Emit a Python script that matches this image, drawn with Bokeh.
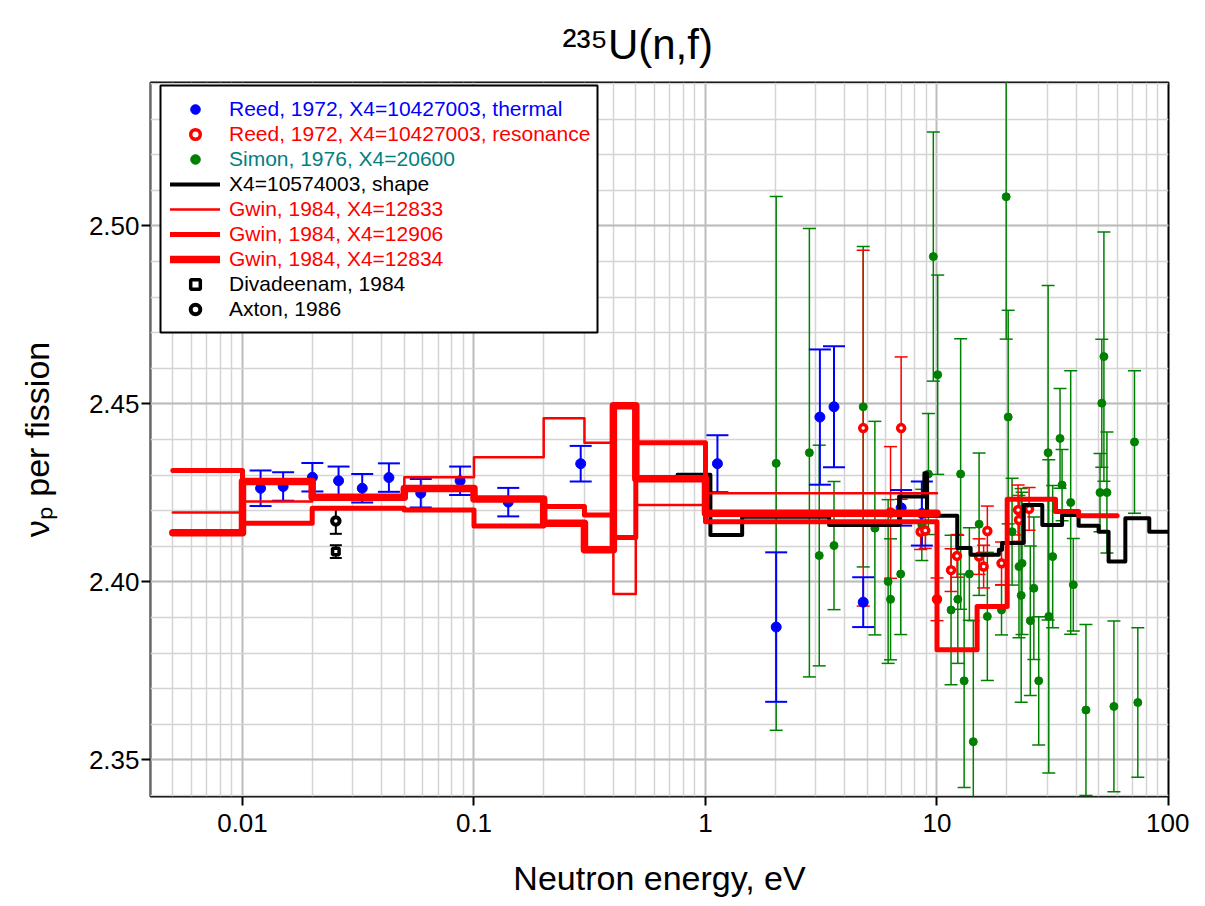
import math
from bokeh.plotting import figure
from bokeh.models import (ColumnDataSource, Whisker, TeeHead, FixedTicker, Legend,
                          LegendItem, BoxAnnotation, Range1d)
from bokeh.embed import file_html
from bokeh.resources import INLINE

# ---------------- data ----------------
# Reed 1972, thermal (blue)
reed_th_E = [0.01197, 0.01498, 0.02004, 0.0260, 0.0329, 0.0429, 0.0589, 0.0871, 0.1406,
             0.289, 1.126, 2.02, 3.12, 3.59, 4.80, 7.0, 8.6]
reed_th_nu = [2.4263, 2.4268, 2.4294, 2.4284, 2.4263, 2.4293, 2.4249, 2.4284, 2.4224,
              2.4332, 2.4332, 2.3873, 2.4463, 2.4492, 2.3943, 2.4208, 2.4192]
reed_th_err = [0.005, 0.004, 0.004, 0.004, 0.004, 0.004, 0.004, 0.004, 0.004,
               0.005, 0.008, 0.021, 0.019, 0.017, 0.007, 0.005, 0.009]

# Reed 1972, resonance (red open circles)
reed_res_E = [4.80, 6.30, 7.0, 8.5, 8.9, 10.0, 11.5, 12.2, 15.2, 15.9, 16.5, 19.0, 22.4, 22.6, 25.0]
reed_res_nu = [2.4432, 2.4195, 2.4432, 2.4141, 2.4144, 2.3951, 2.4033, 2.4073, 2.4071, 2.4043,
               2.4143, 2.4052, 2.4202, 2.4174, 2.4205]
reed_res_err = [0.050, 0.0185, 0.020, 0.005, 0.005, 0.006, 0.006, 0.006, 0.005, 0.006,
                0.007, 0.006, 0.007, 0.006, 0.006]

# Simon 1976 (green)
simon_E = [2.02, 2.81, 3.10, 3.59, 4.80, 5.39, 6.15, 6.30, 6.97, 8.60, 9.18, 9.64, 10.07,
           11.5, 12.3, 12.65, 13.1, 13.8, 14.35, 15.2, 16.5, 19.0, 19.9, 20.3, 21.1, 22.6,
           23.1, 23.3, 25.3, 26.2, 27.5, 30.2, 30.4, 31.6, 34.0, 34.7, 37.8, 38.8, 44.0,
           50.6, 51.5, 52.6, 54.2, 58.1, 71.3, 73.7]
simon_nu = [2.4333, 2.4363, 2.4074, 2.4102, 2.4492, 2.4151, 2.4001, 2.3951, 2.4022, 2.4160,
            2.4303, 2.4914, 2.4582, 2.3921, 2.3951, 2.4303, 2.3722, 2.4022, 2.3551, 2.4162,
            2.3903, 2.3921, 2.5082, 2.4463, 2.4141, 2.4043, 2.3962, 2.4052, 2.3891, 2.3982,
            2.3722, 2.4363, 2.3903, 2.4071, 2.4403, 2.4272, 2.4223, 2.3992, 2.3640, 2.4251,
            2.4502, 2.4633, 2.4251, 2.3650, 2.4393, 2.3661]
simon_err = [0.075, 0.063, 0.031, 0.018, 0.045, 0.030, 0.023, 0.017, 0.017, 0.010,
             0.017, 0.035, 0.028, 0.021, 0.018, 0.038, 0.030, 0.013, 0.034, 0.020,
             0.018, 0.007, 0.040, 0.030, 0.015, 0.020, 0.030, 0.020, 0.021, 0.020,
             0.018, 0.047, 0.044, 0.020, 0.014, 0.010, 0.037, 0.013, 0.024, 0.011,
             0.018, 0.035, 0.017, 0.024, 0.020, 0.021]

# X4=10574003 shape (black histogram)
shape_edges = [0.757, 1.05, 1.44, 3.42, 6.86, 8.82, 9.05, 12.23, 13.97, 18.5, 19.1, 23.7,
               28.5, 34.7, 40.9, 49.9, 55.1, 65.1, 82.6, 100.0]
shape_vals = [2.4301, 2.4132, 2.4183, 2.4160, 2.4240, 2.4305, 2.4186, 2.4095, 2.4076, 2.4090,
              2.4109, 2.4216, 2.4160, 2.4188, 2.4158, 2.4141, 2.4057, 2.4179, 2.4141]

# Gwin 1984 histograms
g12833_edges = [0.005, 0.01, 0.02, 0.05, 0.1, 0.2, 0.3, 0.4, 0.5, 1.0, 10.0]
g12833_vals = [2.4195, 2.4226, 2.4240, 2.4294, 2.4350, 2.4460, 2.4391, 2.3966, 2.4216, 2.4249]

g12906_edges = [0.005, 0.01, 0.02, 0.05, 0.1, 0.2, 0.3, 0.4, 0.5, 1.0, 10.0, 14.9, 20.1,
                32.5, 40.9, 60.0]
g12906_vals = [2.4313, 2.4165, 2.4207, 2.4202, 2.4157, 2.4212, 2.4188, 2.4125, 2.4391,
               2.4169, 2.3809, 2.3931, 2.4232, 2.4198, 2.4186]

g12834_edges = [0.005, 0.01, 0.02, 0.05, 0.1, 0.2, 0.3, 0.4, 0.5, 1.0, 10.0]
g12834_vals = [2.4138, 2.4282, 2.4238, 2.4262, 2.4233, 2.4165, 2.4090, 2.4495, 2.4290, 2.4193]

# Divadeenam 1984 and Axton 1986 (thermal point)
diva_E, diva_nu, diva_err = [0.0253], [2.4085], [0.0018]
axton_E, axton_nu, axton_err = [0.0253], [2.4171], [0.0036]

# axes
x_ticks = [0.01, 0.1, 1, 10, 100]
x_tick_labels = ["0.01", "0.1", "1", "10", "100"]
y_ticks = [2.35, 2.40, 2.45, 2.50]
y_tick_labels = ["2.35", "2.40", "2.45", "2.50"]
x_range = (0.004005, 100.0)
y_range = (2.3397, 2.5403)

FONT = "Liberation Sans"
FW, FH = 1018, 714

p = figure(x_axis_type="log", frame_width=FW, frame_height=FH,
           x_range=Range1d(*x_range), y_range=Range1d(*y_range),
           output_backend="svg", toolbar_location=None,
           min_border_left=150, min_border_right=21, min_border_top=82, min_border_bottom=94)
p.background_fill_color = "white"
p.outline_line_color = "black"
p.outline_line_width = 2

p.title.text = "²³⁵U(n,f)"
p.title.text_font = FONT
p.title.text_font_size = "42px"
p.title.text_font_style = "normal"
p.title.text_color = "black"
p.title.align = "left"
p.title.offset = 412
p.title.standoff = 29

minor_x = [k * 10.0 ** d for d in range(-3, 3) for k in range(2, 10)]
minor_y = [round(2.33 + 0.01 * i, 2) for i in range(23)]
p.xaxis.ticker = FixedTicker(ticks=x_ticks, minor_ticks=minor_x)
p.yaxis.ticker = FixedTicker(ticks=y_ticks, minor_ticks=minor_y)
p.xaxis.major_label_overrides = {t: l for t, l in zip(x_ticks, x_tick_labels)}
p.yaxis.major_label_overrides = {t: l for t, l in zip(y_ticks, y_tick_labels)}

for g in (p.xgrid, p.ygrid):
    g.grid_line_color = "#bcbcbc"
    g.grid_line_width = 2
    g.minor_grid_line_color = "#d4d4d4"
    g.minor_grid_line_width = 1.5

for ax in (p.xaxis, p.yaxis):
    ax.axis_line_color = None
    ax.major_tick_out = 9
    ax.major_tick_in = 0
    ax.major_tick_line_width = 2
    ax.major_tick_line_color = "black"
    ax.minor_tick_out = 0
    ax.minor_tick_in = 0
    ax.major_label_text_font = FONT
    ax.major_label_text_font_size = "26px"
    ax.major_label_text_color = "black"
    ax.axis_label_text_font = FONT
    ax.axis_label_text_font_size = "34px"
    ax.axis_label_text_font_style = "normal"
    ax.axis_label_text_color = "black"
p.xaxis.axis_label = "Neutron energy, eV"
p.yaxis.axis_label = "νₚ per fission"
p.xaxis.major_label_standoff = 8
p.yaxis.major_label_standoff = 2
p.xaxis.axis_label_standoff = 24
p.yaxis.axis_label_standoff = 30
p.yaxis.major_label_orientation = "horizontal"


def errbars(E, nu, err, color, width, head):
    src = ColumnDataSource(dict(x=E, lo=[v - e for v, e in zip(nu, err)],
                                up=[v + e for v, e in zip(nu, err)]))
    w = Whisker(source=src, base="x", lower="lo", upper="up", dimension="height",
                line_color=color, line_width=width,
                lower_head=TeeHead(size=head, line_color=color, line_width=width),
                upper_head=TeeHead(size=head, line_color=color, line_width=width))
    p.add_layout(w)


GREEN = "#008000"
errbars(simon_E, simon_nu, simon_err, GREEN, 1.5, 13)
errbars(reed_res_E, reed_res_nu, reed_res_err, "#ff0000", 1.5, 13)
errbars(reed_th_E, reed_th_nu, reed_th_err, "#0000ff", 2, 22)
errbars(diva_E, diva_nu, diva_err, "black", 2, 12)
errbars(axton_E, axton_nu, axton_err, "black", 2, 12)

r_simon = p.scatter(simon_E, simon_nu, size=8, color=GREEN, marker="circle")
r_th = p.scatter(reed_th_E, reed_th_nu, size=10, color="#0000ff", marker="circle")
r_res = p.scatter(reed_res_E, reed_res_nu, size=7, fill_color="white", line_color="#ff0000",
                  line_width=3.5, marker="circle")


def hist(edges, vals, color, width):
    return p.step(edges, list(vals) + [vals[-1]], mode="after", line_color=color,
                  line_width=width, line_join="round", line_cap="round")


r_shape = hist(shape_edges, shape_vals, "black", 4)
r_12833 = hist(g12833_edges, g12833_vals, "#ff0000", 2.5)
r_12906 = hist(g12906_edges, g12906_vals, "#ff0000", 5)
r_12834 = hist(g12834_edges, g12834_vals, "#ff0000", 7.5)

r_diva = p.scatter(diva_E, diva_nu, size=6.5, marker="square", fill_color="white",
                   line_color="black", line_width=3.5)
r_axton = p.scatter(axton_E, axton_nu, size=7.5, marker="circle", fill_color="white",
                    line_color="black", line_width=4)

# ---------------- legend ----------------
lx0, lx1 = math.log10(x_range[0]), math.log10(x_range[1])


def fx(off):
    return 10 ** (lx0 + off / FW * (lx1 - lx0))


def fy(off):
    return y_range[1] - off / FH * (y_range[1] - y_range[0])


box = BoxAnnotation(left=fx(10), right=fx(447), top=fy(3), bottom=fy(250),
                    fill_color="white", fill_alpha=1.0, line_color="black", line_alpha=1.0,
                    line_width=2, level="annotation")
p.add_layout(box)

entries = [
    ("Reed, 1972, X4=10427003, thermal", r_th, "#0000ff"),
    ("Reed, 1972, X4=10427003, resonance", r_res, "#ff0000"),
    ("Simon, 1976, X4=20600", r_simon, "#008080"),
    ("X4=10574003, shape", r_shape, "black"),
    ("Gwin, 1984, X4=12833", r_12833, "#ff0000"),
    ("Gwin, 1984, X4=12906", r_12906, "#ff0000"),
    ("Gwin, 1984, X4=12834", r_12834, "#ff0000"),
    ("Divadeenam, 1984", r_diva, "black"),
    ("Axton, 1986", r_axton, "black"),
]
ROW_H = 24
for i, (lab, rend, col) in enumerate(entries):
    c = 26.5 + 25.1 * i
    lg = Legend(items=[LegendItem(label=lab, renderers=[rend])],
                location=(20, FH - c - ROW_H / 2),
                background_fill_alpha=0, border_line_color=None,
                padding=0, margin=0, spacing=0,
                glyph_width=50, glyph_height=ROW_H, label_height=ROW_H,
                label_standoff=9, label_text_font=FONT, label_text_font_size="21px",
                label_text_color=col, label_text_baseline="middle")
    p.add_layout(lg)

open("out.html", "w").write(file_html(p, INLINE))
